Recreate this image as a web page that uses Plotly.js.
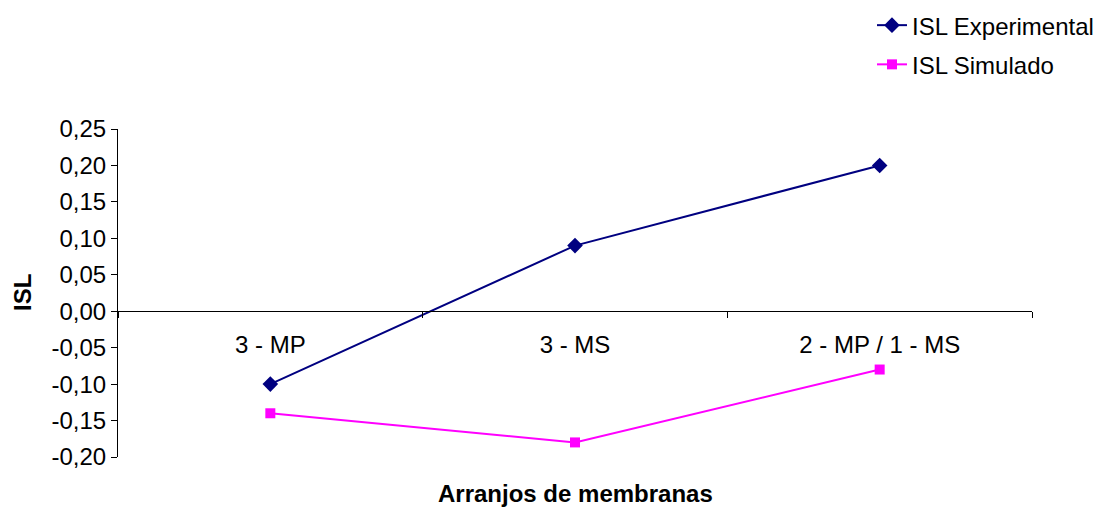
<!DOCTYPE html>
<html>
<head>
<meta charset="utf-8">
<script src="https://cdn.plot.ly/plotly-3.0.1.min.js"></script>
<style>html,body{margin:0;padding:0;background:#fff;}#chart{width:1096px;height:508px;}</style>
</head>
<body>
<div id="chart"></div>
<script>
const categories = ["3 - MP", "3 - MS", "2 - MP / 1 - MS"];
const islExperimental = [-0.10, 0.09, 0.20];
const islSimulado = [-0.14, -0.18, -0.08];
const seriesNames = ["ISL Experimental", "ISL Simulado"];
const yTickVals = [-0.20, -0.15, -0.10, -0.05, 0.00, 0.05, 0.10, 0.15, 0.20, 0.25];
const yTickText = ["-0,20", "-0,15", "-0,10", "-0,05", "0,00", "0,05", "0,10", "0,15", "0,20", "0,25"];
const yTitle = "ISL";
const xTitle = "Arranjos de membranas";

const FONT = "Liberation Sans, Arial, sans-serif";
const yMin = -0.2, yMax = 0.25;
const FS = 24;

const traces = [
  {
    x: categories, y: islExperimental, name: seriesNames[0], type: "scatter", mode: "lines+markers",
    line: {color: "#000080", width: 2}, marker: {symbol: "diamond", size: 12, color: "#000080"},
    legendgroup: "a"
  },
  {
    x: categories, y: islSimulado, name: seriesNames[1], type: "scatter", mode: "lines+markers",
    line: {color: "#FF00FF", width: 2}, marker: {symbol: "square", size: 10, color: "#FF00FF"},
    legendgroup: "b"
  }
];

const layout = {
  width: 1096, height: 508,
  paper_bgcolor: "#fff", plot_bgcolor: "#fff",
  margin: {l: 118, r: 64, t: 129, b: 51, pad: 0, autoexpand: false},
  separators: ", ",
  font: {family: FONT, size: FS, color: "#000"},
  showlegend: true,
  legend: {xref: "container", yref: "container", x: 0.7956, y: 0.994, xanchor: "left", yanchor: "top",
           tracegroupgap: 5, font: {family: FONT, size: FS, color: "#000"}, bgcolor: "rgba(0,0,0,0)"},
  xaxis: {
    type: "category", range: [-0.5, 2.5], anchor: "free", position: (0 - yMin) / (yMax - yMin),
    showline: true, linecolor: "#000", linewidth: 1, ticks: "outside", tickson: "boundaries",
    ticklen: 6, tickcolor: "#000", showgrid: false, zeroline: false,
    ticklabelstandoff: 12, tickfont: {family: FONT, size: FS, color: "#000"}
  },
  yaxis: {
    range: [yMin, yMax], tickmode: "array", tickvals: yTickVals, ticktext: yTickText,
    showline: true, linecolor: "#000", linewidth: 1, ticks: "outside", ticklen: 6, tickcolor: "#000",
    showgrid: false, zeroline: false, tickfont: {family: FONT, size: FS, color: "#000"}
  },
  annotations: [
    {text: "<b>" + xTitle + "</b>", xref: "paper", yref: "paper", x: 0.5, y: -0.11,
     xanchor: "center", yanchor: "middle", showarrow: false, font: {family: FONT, size: FS, color: "#000"}},
    {text: "<b>" + yTitle + "</b>", xref: "paper", yref: "paper", x: -0.105, y: 0.5,
     xanchor: "center", yanchor: "middle", textangle: -90, showarrow: false, font: {family: FONT, size: FS, color: "#000"}}
  ]
};

Plotly.newPlot("chart", traces, layout, {displayModeBar: false, staticPlot: true});
</script>
</body>
</html>
